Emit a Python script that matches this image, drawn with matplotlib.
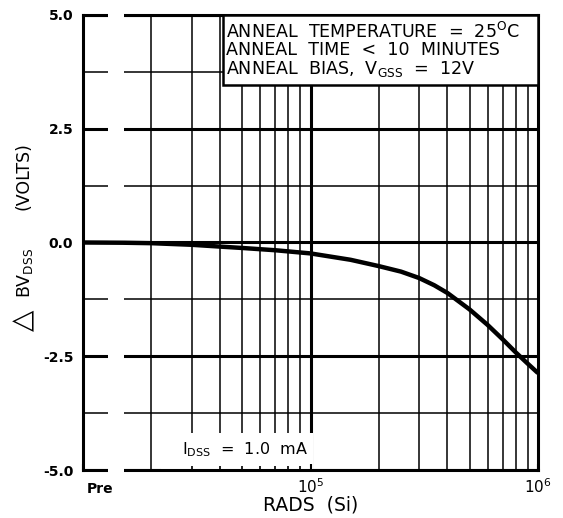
import matplotlib
matplotlib.use("Agg")
import matplotlib.pyplot as plt
from matplotlib.patches import Rectangle
from matplotlib.ticker import FixedLocator, NullFormatter
import matplotlib.transforms as mtransforms

plt.rcParams['font.family'] = ['DejaVu Sans']
plt.rcParams['mathtext.default'] = 'regular'

# data
rads = [1e4, 1.5e4, 2e4, 3e4, 4e4, 5e4, 7e4, 1e5, 1.5e5, 2e5, 2.5e5, 3e5, 3.5e5,
        4e5, 5e5, 6e5, 7e5, 8e5, 9e5, 1e6]
dbv = [0.0, -0.005, -0.015, -0.05, -0.09, -0.12, -0.17, -0.24, -0.38, -0.52,
       -0.64, -0.78, -0.94, -1.11, -1.47, -1.81, -2.13, -2.42, -2.66, -2.87]

y_major = [-5.0, -2.5, 0.0, 2.5, 5.0]
y_minor = [-3.75, -1.25, 1.25, 3.75]
x_minor = [2e4, 3e4, 4e4, 5e4, 6e4, 7e4, 8e4, 9e4,
           2e5, 3e5, 4e5, 5e5, 6e5, 7e5, 8e5, 9e5]
x_major = [1e4, 1e5, 1e6]
x_labels = ['Pre', '$10^5$', '$10^6$']
y_labels = ['-5.0', '-2.5', '0.0', '2.5', '5.0']
note_lines = ['ANNEAL  TEMPERATURE  =  25$^{O}$C',
              'ANNEAL  TIME  <  10  MINUTES',
              'ANNEAL  BIAS,  V$_{GSS}$  =  12V']

fig = plt.figure(figsize=(5.63, 5.18), dpi=100)
ax = fig.add_axes([83/563, 1-470/518, 455/563, 455/518])
ax.set_xscale('log')
ax.set_xlim(1e4, 1e6)
ax.set_ylim(-5, 5)

# grid
for y in y_major:
    ax.axhline(y, color='black', lw=2.2, zorder=1)
for y in y_minor:
    ax.axhline(y, color='black', lw=1.1, zorder=1)
for x in x_minor:
    ax.axvline(x, color='black', lw=1.1, zorder=1)
ax.axvline(1e5, color='black', lw=2.2, zorder=1)

# white area for I_DSS label
ax.add_patch(Rectangle((2.2e4, -5.0), 1.03e5-2.2e4, 0.81, facecolor='white',
                       edgecolor='none', zorder=1.5))
ax.text(2.72e4, -4.56, 'I$_{DSS}$  =  1.0  mA', fontsize=11.5, ha='left', va='center',
        zorder=5)

# gap in horizontal lines near the left axis
ax.add_patch(Rectangle((0.054, -0.02), 0.036, 1.04, transform=ax.transAxes,
                       facecolor='white', edgecolor='none', zorder=2.6,
                       clip_on=False))

# annotation box
ax.add_patch(Rectangle((0.308, 0.846), 0.692, 0.154, transform=ax.transAxes,
                       facecolor='white', edgecolor='black', lw=1.8, zorder=3,
                       clip_on=False))
for i, line in enumerate(note_lines):
    ax.text(0.315, 0.963 - i*0.0405, line, transform=ax.transAxes, fontsize=12.6,
            ha='left', va='center', zorder=5)

# curve
ax.plot(rads, dbv, color='black', lw=3.2, zorder=4, solid_capstyle='butt')

for s in ax.spines.values():
    s.set_linewidth(2.2)
    s.set_zorder(2.5)

ax.xaxis.set_major_locator(FixedLocator(x_major))
ax.xaxis.set_minor_locator(FixedLocator([3e4, 4e4, 5e4, 6e4, 7e4, 8e4, 9e4]))
ax.xaxis.set_minor_formatter(NullFormatter())
ax.set_xticklabels(x_labels)
ax.tick_params(axis='x', which='major', direction='in', length=4, width=1.5, pad=5,
               labelsize=11)
ax.tick_params(axis='x', which='minor', direction='in', length=3, width=1.2)
ax.set_yticks(y_major)
ax.set_yticklabels(y_labels, fontweight='bold', fontsize=10)
ax.tick_params(axis='y', length=0, pad=7)
lbls = ax.get_xticklabels()
lbls[0].set_ha('left')
lbls[0].set_fontweight('bold')
lbls[0].set_fontsize(10)
lbls[0].set_transform(lbls[0].get_transform() +
                      mtransforms.ScaledTranslation(4/100, -5/100, fig.dpi_scale_trans))

ax.set_xlabel('RADS  (Si)', fontsize=13.5, labelpad=0)

# y label pieces
fig.text(23.5/563, 1-176/518, '(VOLTS)', rotation=90, fontsize=12.5,
         ha='center', va='center')
fig.text(25/563, 1-273/518, 'BV$_{DSS}$', rotation=90, fontsize=12.5,
         ha='center', va='center')
fig.text(23.5/563, 1-320/518, '\u25B3', rotation=90, fontsize=20,
         ha='center', va='center')

fig.savefig('out.png', dpi=100)
